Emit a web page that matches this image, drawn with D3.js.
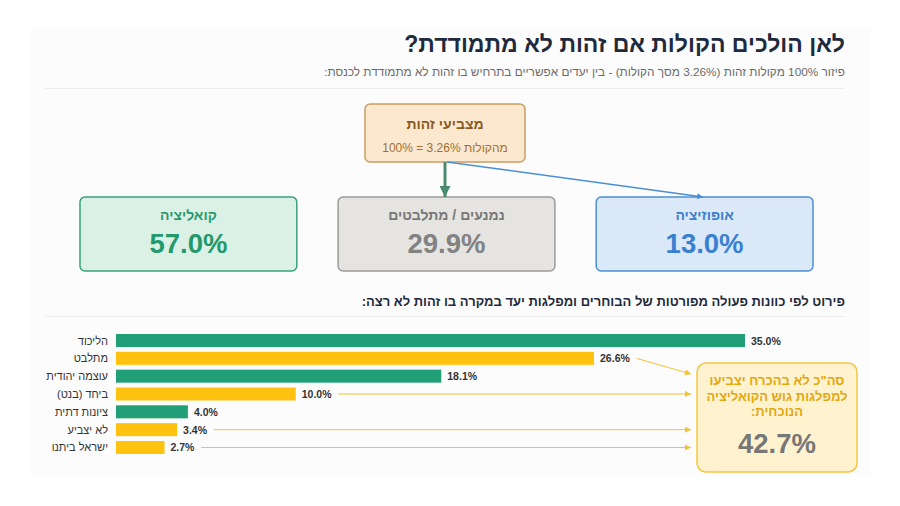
<!DOCTYPE html>
<html><head><meta charset="utf-8">
<script src="https://cdn.jsdelivr.net/npm/d3@7"></script>
<style>
html,body{margin:0;padding:0;background:#fff;}
svg{display:block;font-family:"Liberation Sans",Arial,sans-serif;}
</style></head>
<body><svg id="c" width="900" height="506"></svg>
<script>
// ---- data ----
const titleText = "לאן הולכים הקולות אם זהות לא מתמודדת?";
const subtitleText = "פיזור 100% מקולות זהות (3.26% מסך הקולות) - בין יעדים אפשריים בתרחיש בו זהות לא מתמודדת לכנסת:";
const sourceTitle = "מצביעי זהות";
const sourceSub = "100% = 3.26% מהקולות";
const blocLabels = ["קואליציה", "נמנעים / מתלבטים", "אופוזיציה"];
const blocValues = [57.0, 29.9, 13.0];
const sectionText = "פירוט לפי כוונות פעולה מפורטות של הבוחרים ומפלגות יעד במקרה בו זהות לא רצה:";
const parties = ["הליכוד", "מתלבט", "עוצמה יהודית", "ביחד (בנט)", "ציונות דתית", "לא יצביע", "ישראל ביתנו"];
const shares = [35.0, 26.6, 18.1, 10.0, 4.0, 3.4, 2.7];
const isCoalition = [true, false, true, false, true, false, false];
const summaryLines = ["סה\"כ לא בהכרח יצביעו", "למפלגות גוש הקואליציה", "הנוכחית:"];
const summaryValue = 42.7;

// ---- drawing ----
const svg = d3.select("#c");
const defs = svg.append("defs");
function marker(id, color, w, h) {
  defs.append("marker").attr("id", id).attr("viewBox", "0 0 10 10")
    .attr("refX", 10).attr("refY", 5).attr("markerWidth", w).attr("markerHeight", h)
    .attr("markerUnits", "userSpaceOnUse").attr("orient", "auto")
    .append("path").attr("d", "M0,0L10,5L0,10z").attr("fill", color);
}
marker("mGreen", "#4a8a6c", 11, 11);
marker("mBlue", "#4a8fd6", 7, 6);
marker("mYellow", "#f2c233", 7, 6);

// panel
svg.append("rect").attr("x", 30).attr("y", 28).attr("width", 840).attr("height", 448).attr("fill", "#fcfcfc");

const R = 845;
svg.append("text").attr("x", R).attr("y", 52).attr("direction", "rtl").attr("text-anchor", "start")
  .attr("font-size", 23).attr("font-weight", "bold").attr("fill", "#1f2b3c").text(titleText);
svg.append("text").attr("x", R).attr("y", 76).attr("direction", "rtl").attr("text-anchor", "start")
  .attr("font-size", 11.8).attr("fill", "#6b6b6b").text(subtitleText);
svg.append("line").attr("x1", 45).attr("x2", R).attr("y1", 88.5).attr("y2", 88.5).attr("stroke", "#ececec").attr("stroke-width", 1);

// source box
const src = {x: 365, y: 104, w: 160, h: 58};
svg.append("rect").attr("x", src.x).attr("y", src.y).attr("width", src.w).attr("height", src.h).attr("rx", 5)
  .attr("fill", "#fbe8cf").attr("stroke", "#c99d66").attr("stroke-width", 1.5);
svg.append("text").attr("x", src.x + src.w / 2).attr("y", src.y + 25).attr("text-anchor", "middle")
  .attr("font-size", 14).attr("font-weight", "bold").attr("fill", "#8a5b1f").text(sourceTitle);
svg.append("text").attr("x", src.x + src.w / 2).attr("y", src.y + 48).attr("text-anchor", "middle")
  .attr("font-size", 12).attr("fill", "#a1712f").text(sourceSub);

// bloc boxes
const blocX = d3.scaleBand().domain(blocLabels).range([80, 813]).paddingInner(0.16);
const blocStyle = [
  {fill: "#dcf1e6", stroke: "#39a07a", label: "#2a9a6d", value: "#24996b"},
  {fill: "#e5e4e0", stroke: "#9b9b9b", label: "#777", value: "#828282"},
  {fill: "#dae8f8", stroke: "#4a8fd6", label: "#3c7fcc", value: "#3a80d0"}
];
const boxY = 197, boxH = 74;
const bg = svg.selectAll("g.bloc").data(blocLabels).join("g").attr("class", "bloc");
bg.append("rect").attr("x", d => blocX(d)).attr("y", boxY).attr("width", blocX.bandwidth()).attr("height", boxH)
  .attr("rx", 5).attr("fill", (d, i) => blocStyle[i].fill).attr("stroke", (d, i) => blocStyle[i].stroke).attr("stroke-width", 1.5);
bg.append("text").attr("x", d => blocX(d) + blocX.bandwidth() / 2).attr("y", 220).attr("text-anchor", "middle")
  .attr("direction", "rtl").attr("font-size", 14).attr("font-weight", "bold").attr("fill", (d, i) => blocStyle[i].label).text(d => d);
bg.append("text").attr("x", d => blocX(d) + blocX.bandwidth() / 2).attr("y", 253).attr("text-anchor", "middle")
  .attr("font-size", 27.5).attr("font-weight", "bold").attr("fill", (d, i) => blocStyle[i].value)
  .text((d, i) => blocValues[i].toFixed(1) + "%");

// arrows from source
const sx = src.x + src.w / 2;
svg.append("line").attr("x1", sx).attr("y1", src.y + src.h).attr("x2", sx).attr("y2", boxY)
  .attr("stroke", "#4a8a6c").attr("stroke-width", 3).attr("marker-end", "url(#mGreen)");
svg.append("line").attr("x1", sx + 2).attr("y1", src.y + src.h).attr("x2", blocX(blocLabels[2]) + 107).attr("y2", boxY)
  .attr("stroke", "#4a8fd6").attr("stroke-width", 1.5).attr("marker-end", "url(#mBlue)");

// section heading
svg.append("text").attr("x", R).attr("y", 306).attr("direction", "rtl").attr("text-anchor", "start")
  .attr("font-size", 13).attr("font-weight", "bold").attr("fill", "#1f2b3c").text(sectionText);
svg.append("line").attr("x1", 45).attr("x2", R).attr("y1", 316.5).attr("y2", 316.5).attr("stroke", "#ececec").attr("stroke-width", 1);

// bars
const x = d3.scaleLinear().domain([0, 35]).range([116, 745]);
const y = d3.scaleBand().domain(parties).range([334, 454]).paddingInner(0.27);
const green = "#21a078", yellow = "#ffc20e";
const rows = svg.selectAll("g.row").data(parties).join("g").attr("class", "row");
rows.append("rect").attr("x", x(0)).attr("y", d => y(d)).attr("height", y.bandwidth())
  .attr("width", (d, i) => x(shares[i]) - x(0)).attr("fill", (d, i) => isCoalition[i] ? green : yellow);
rows.append("text").attr("x", 108).attr("y", d => y(d) + y.bandwidth() / 2 + 4).attr("direction", "rtl")
  .attr("text-anchor", "start").attr("font-size", 11).attr("fill", "#333").text(d => d);
const vals = rows.append("text").attr("x", (d, i) => x(shares[i]) + 6).attr("y", d => y(d) + y.bandwidth() / 2 + 4)
  .attr("font-size", 10.5).attr("font-weight", "bold").attr("fill", "#333").text((d, i) => shares[i].toFixed(1) + "%");

// summary box
const sb = {x: 697, y: 363, w: 160, h: 109};
svg.append("rect").attr("x", sb.x).attr("y", sb.y).attr("width", sb.w).attr("height", sb.h).attr("rx", 9)
  .attr("fill", "#fff2cf").attr("stroke", "#f3c640").attr("stroke-width", 1.5);
svg.selectAll("text.sum").data(summaryLines).join("text").attr("class", "sum")
  .attr("x", sb.x + sb.w / 2).attr("y", (d, i) => 385 + i * 15.5).attr("text-anchor", "middle").attr("direction", "rtl")
  .attr("font-size", 13).attr("font-weight", "bold").attr("fill", "#e2a80f").text(d => d);
svg.append("text").attr("x", sb.x + sb.w / 2).attr("y", 453).attr("text-anchor", "middle")
  .attr("font-size", 27.5).attr("font-weight", "bold").attr("fill", "#777").text(summaryValue.toFixed(1) + "%");

// arrows from non-coalition bars to summary box
vals.each(function(d, i) {
  if (isCoalition[i]) return;
  const bb = this.getBBox();
  const cy = y(d) + y.bandwidth() / 2;
  const ty = Math.max(cy, sb.y + 11);
  svg.append("line").attr("x1", bb.x + bb.width + 6).attr("y1", cy).attr("x2", sb.x - 6).attr("y2", ty)
    .attr("stroke", "#f2c233").attr("stroke-width", 1).attr("marker-end", "url(#mYellow)");
});
</script></body></html>
